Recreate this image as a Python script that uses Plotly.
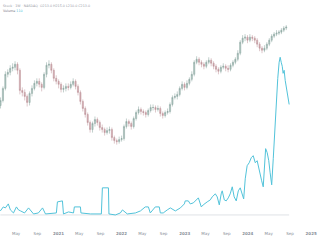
import pandas as pd
import plotly.graph_objects as go

# ---- price candles (2-week bars) ----
candle_start = "2020-02-01"
candle_step = "14D"
opens = [135,140,152,166,168,172,173,176,170,150,148,144,138,147,152,157,159,156,153,166,
         175,176,170,162,159,156,151,152,154,153,156,159,154,148,139,132,126,118,111,117,
         121,118,113,111,108,110,111,103,100,99,101,102,114,119,117,114,122,128,131,129,
         128,126,130,133,133,131,132,127,125,128,129,136,143,144,146,152,156,153,157,161,
         166,178,181,178,176,174,178,180,177,174,171,169,173,174,172,171,175,178,181,187,
         198,202,203,200,203,202,200,196,192,190,192,196,200,204,206,207,208,210,212]
closes = [140,152,166,168,172,173,176,170,150,148,144,138,147,152,157,159,156,153,166,175,
          176,170,162,159,156,151,152,154,153,156,159,154,148,139,132,126,118,111,117,121,
          118,113,111,108,110,111,103,100,99,101,102,114,119,117,114,122,128,131,129,128,
          126,130,133,133,131,132,127,125,128,129,136,143,144,146,152,156,153,157,161,166,
          178,181,178,176,174,178,180,177,174,171,169,173,174,172,171,175,178,181,187,198,
          202,203,200,203,202,200,196,192,190,192,196,200,204,206,207,208,210,212,213]
highs = [143,154,169,171,175,177,179,178,172,153,151,146,149,155,160,162,162,158,168,178,
         180,178,172,165,161,158,155,157,157,159,162,161,156,150,141,134,128,120,119,124,
         123,120,116,113,113,114,113,105,102,104,105,116,122,121,119,124,130,134,133,131,
         130,132,136,136,135,135,134,129,130,132,138,145,147,149,154,159,158,160,163,169,
         180,184,183,180,178,180,183,182,179,176,173,175,177,176,175,177,180,183,190,200,
         205,206,205,206,205,204,202,198,194,195,198,202,206,208,210,210,212,214,215]
lows = [132,138,150,163,165,169,170,166,146,144,140,134,135,144,150,154,153,149,151,163,
        172,167,159,156,152,148,148,149,150,151,154,151,145,136,129,123,115,108,108,114,
        115,110,108,105,106,107,100,97,96,97,99,100,112,114,111,112,120,126,126,125,
        123,124,128,130,128,129,124,122,123,126,127,134,141,141,144,150,150,151,155,159,
        164,176,175,173,171,172,176,174,171,168,166,167,171,169,168,169,173,176,179,185,
        196,199,197,198,199,197,193,189,187,188,190,194,198,202,204,205,206,208,210]

# ---- cyan indicator line ----
line_dates = ["2020-01-31","2020-02-17","2020-02-29","2020-03-17","2020-03-29","2020-04-16",
              "2020-05-03","2020-05-15","2020-05-27","2020-06-19","2020-07-12","2020-07-29",
              "2020-08-10","2020-09-07","2020-10-01","2020-10-18","2020-11-27","2020-12-20",
              "2020-12-26","2021-01-24","2021-01-30","2021-02-28","2021-03-29","2021-04-03",
              "2021-05-08","2021-05-11","2021-07-05","2021-08-08","2021-09-06","2021-09-12",
              "2021-10-17","2021-10-20","2021-11-26","2021-12-25","2022-01-06","2022-02-03",
              "2022-03-22","2022-04-20","2022-05-18","2022-06-05","2022-06-16","2022-07-15",
              "2022-08-07","2022-08-13","2022-08-30","2022-09-22","2022-10-10","2022-11-08",
              "2022-12-07","2022-12-30","2023-01-04","2023-01-22","2023-02-02","2023-02-20",
              "2023-03-09","2023-03-21","2023-04-07","2023-04-18","2023-05-11","2023-05-29",
              "2023-06-09","2023-06-27","2023-07-08","2023-07-20","2023-07-31","2023-08-06",
              "2023-08-18","2023-08-29","2023-09-10","2023-09-21","2023-10-03","2023-10-14",
              "2023-10-26","2023-11-07","2023-11-18","2023-11-30","2023-12-08","2023-12-17",
              "2023-12-28","2024-01-09","2024-01-21","2024-02-01","2024-02-13","2024-02-24",
              "2024-03-04","2024-03-13","2024-03-21","2024-03-30","2024-04-05","2024-04-13",
              "2024-04-22","2024-05-01","2024-05-09","2024-05-18","2024-05-27","2024-06-04",
              "2024-06-13","2024-06-22","2024-06-30","2024-07-06","2024-07-12","2024-07-18",
              "2024-07-23","2024-07-29","2024-08-04","2024-08-10","2024-08-15","2024-08-21",
              "2024-08-27"]
line_values = [4,8,7,11,5,2,8,5,4,2,7,3,1,2,7,1,2,2,13,14,1,3,2,8,8,2,1,1,1,27,
               27,1,0,2,5,1,2,4,8,8,2,8,8,2,2,5,7,4,7,11,14,14,11,12,15,17,8,10,13,15,
               18,21,18,10,21,24,15,14,17,21,28,18,14,24,27,20,16,36,49,52,57,59,52,54,46,40,34,28,46,66,
               62,54,42,30,56,84,114,136,152,157,152,148,141,144,134,128,122,114,110]
baseline_value = 0

# ---- axis ticks ----
tick_dates = ["2020-05-01","2020-09-01","2021-01-01","2021-05-01","2021-09-01","2022-01-01",
              "2022-05-01","2022-09-01","2023-01-01","2023-05-01","2023-09-01","2024-01-01",
              "2024-05-01","2024-09-01","2025-01-01"]
tick_labels = ["May","Sep","<b>2021</b>","May","Sep","<b>2022</b>","May","Sep","<b>2023</b>",
               "May","Sep","<b>2024</b>","May","Sep","<b>2025</b>"]

candle_dates = pd.date_range(candle_start, periods=len(closes), freq=candle_step)

fig = go.Figure()
fig.add_trace(go.Scatter(
    x=[line_dates[0], line_dates[-1]], y=[baseline_value, baseline_value],
    mode="lines", line=dict(color="#dfe2e7", width=1), yaxis="y2", hoverinfo="skip"))
fig.add_trace(go.Candlestick(
    x=candle_dates, open=opens, high=highs, low=lows, close=closes,
    increasing=dict(line=dict(color="#85a09a", width=0.5), fillcolor="#b3c8c3"),
    decreasing=dict(line=dict(color="#bb8e95", width=0.5), fillcolor="#d3afb4"),
    whiskerwidth=0, yaxis="y"))
fig.add_trace(go.Scatter(
    x=line_dates, y=line_values, mode="lines",
    line=dict(color="#52c3da", width=1), yaxis="y2"))

fig.update_layout(
    width=326, height=245,
    margin=dict(l=0, r=0, t=0, b=18),
    paper_bgcolor="white", plot_bgcolor="white",
    showlegend=False,
    xaxis=dict(range=["2020-01-29", "2025-03-28"], showgrid=False, zeroline=False,
               showline=False, ticks="outside", ticklen=2, tickcolor="rgba(0,0,0,0)",
               tickvals=tick_dates, ticktext=tick_labels,
               tickfont=dict(family="DejaVu Sans", size=4, color="#8a8f99"),
               rangeslider=dict(visible=False)),
    yaxis=dict(range=[14, 240], visible=False, showgrid=False),
    yaxis2=dict(range=[-12, 214], visible=False, overlaying="y", showgrid=False),
    annotations=[
        dict(xref="paper", yref="paper", x=0.003, y=1, xanchor="left", yanchor="top",
             yshift=-2, showarrow=False,
             text="Stock · 1W · NASDAQ  O213.0 H215.0 L210.0 C213.0",
             font=dict(family="DejaVu Sans", size=3.3, color="#9a9ea8")),
        dict(xref="paper", yref="paper", x=0.003, y=1, xanchor="left", yanchor="top",
             yshift=-6.5, showarrow=False,
             text="<span style='color:#6b6f78'>Volume</span> <span style='color:#52c3da'>110</span>",
             font=dict(family="DejaVu Sans", size=3.3, color="#6b6f78")),
    ],
)

fig.write_html("out.html")
